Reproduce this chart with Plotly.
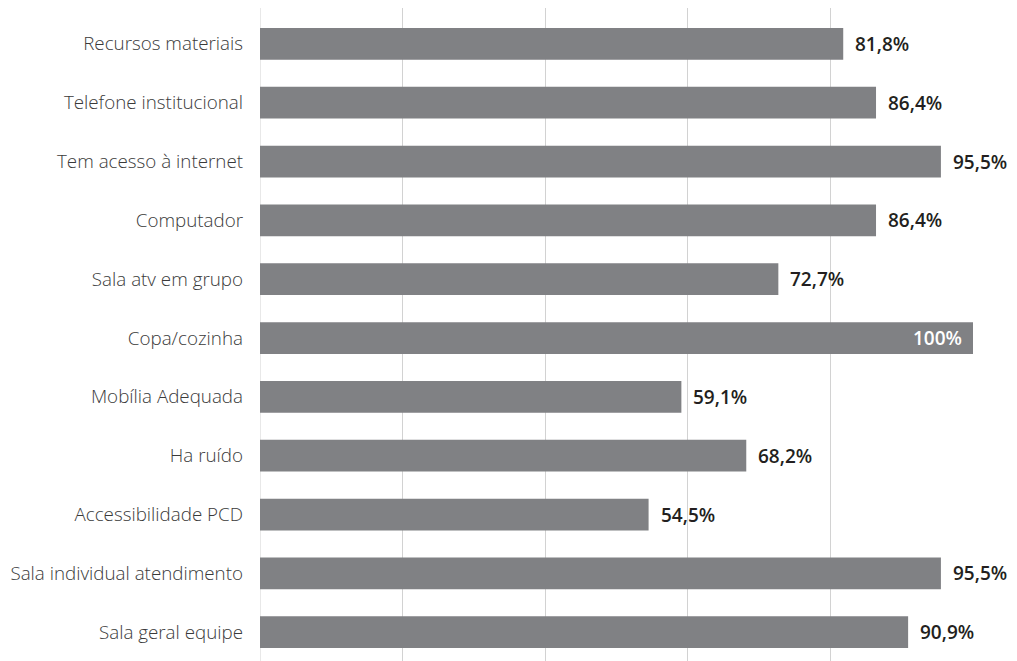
import plotly.graph_objects as go

categories = [
    "Recursos materiais",
    "Telefone institucional",
    "Tem acesso à internet",
    "Computador",
    "Sala atv em grupo",
    "Copa/cozinha",
    "Mobília Adequada",
    "Ha ruído",
    "Accessibilidade PCD",
    "Sala individual atendimento",
    "Sala geral equipe",
]
values = [81.8, 86.4, 95.5, 86.4, 72.7, 100, 59.1, 68.2, 54.5, 95.5, 90.9]
labels = ["81,8%", "86,4%", "95,5%", "86,4%", "72,7%", "100%", "59,1%", "68,2%", "54,5%", "95,5%", "90,9%"]

# bottom-to-top order for plotting
cats_r = categories[::-1]
vals_r = values[::-1]
labs_r = labels[::-1]

BAR = "#808184"
fig = go.Figure()
fig.add_trace(go.Bar(
    y=cats_r, x=vals_r, orientation="h",
    marker=dict(color=BAR, line=dict(width=0)),
    hoverinfo="skip",
))

ann = []
for c, v, l in zip(cats_r, vals_r, labs_r):
    if v >= 100:
        ann.append(dict(x=v, y=c, xref="x", yref="y", text=l,
                        showarrow=False, xanchor="right", xshift=-9,
                        font=dict(family="Open Sans", size=19, color="white", weight=600)))
    else:
        ann.append(dict(x=v, y=c, xref="x", yref="y", text=l,
                        showarrow=False, xanchor="left", xshift=10,
                        font=dict(family="Open Sans", size=19, color="#231f20", weight=600)))

fig.update_layout(
    width=1017, height=661,
    margin=dict(l=252, r=52, t=0, b=8),
    paper_bgcolor="white", plot_bgcolor="white",
    bargap=0.46,
    showlegend=False,
    annotations=ann,
    xaxis=dict(range=[0, 100], dtick=20, showticklabels=False, showgrid=True,
               gridcolor="#d2d2d2", gridwidth=1, zeroline=False, showline=False,
               fixedrange=True),
    yaxis=dict(range=[-0.49, 10.61], showgrid=False, zeroline=False, showline=False,
               ticks="", ticklabelstandoff=16, automargin=False,
               tickfont=dict(family="Open Sans", size=18.8, color="#3a3a3a", weight=300)),
)
# left boundary line (0 gridline)
fig.add_shape(type="line", xref="x", yref="paper", x0=0, x1=0, y0=0, y1=1,
              line=dict(color="#d2d2d2", width=1), layer="below")

fig.write_html("out.html")
